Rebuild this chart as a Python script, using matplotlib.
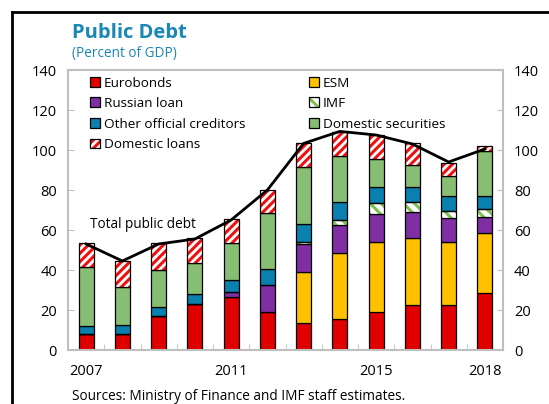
import matplotlib
matplotlib.use("Agg")
import matplotlib.pyplot as plt
import numpy as np
from matplotlib.patches import Patch
from matplotlib.legend_handler import HandlerTuple

plt.rcParams['font.family'] = ['Open Sans', 'DejaVu Sans']
plt.rcParams['hatch.linewidth'] = 2.2

years = [2007, 2008, 2009, 2010, 2011, 2012, 2013, 2014, 2015, 2016, 2017, 2018]
year_labels = ['2007', '', '', '', '2011', '', '', '', '2015', '', '', '2018']

eurobonds = [8.0, 8.0, 17.0, 22.8, 26.3, 19.2, 13.3, 15.5, 18.8, 22.3, 22.5, 28.3]
esm = [0, 0, 0, 0, 0, 0, 25.7, 32.8, 35.4, 33.5, 31.3, 30.0]
russian = [0, 0, 0, 0, 2.5, 13.1, 13.8, 14.2, 13.8, 13.0, 12.4, 8.4]
imf = [0, 0, 0, 0, 0, 0, 1.4, 2.5, 5.3, 5.4, 3.5, 3.6]
other_official = [4.0, 4.5, 4.3, 5.2, 6.2, 8.4, 8.8, 8.8, 8.0, 7.1, 7.3, 6.7]
domestic_securities = [29.3, 18.8, 18.7, 15.7, 18.7, 27.6, 28.7, 23.2, 14.0, 11.0, 10.0, 22.7]
domestic_loans = [12.0, 13.2, 13.3, 12.1, 11.6, 11.7, 11.6, 11.8, 12.2, 11.0, 6.7, 2.5]
total_debt = [53.0, 44.5, 53.0, 55.5, 65.0, 80.0, 103.3, 109.3, 107.5, 103.0, 94.0, 100.5]

series = [
    ('Eurobonds', eurobonds, '#E00000', None, None),
    ('ESM', esm, '#FFC000', None, None),
    ('Russian loan', russian, '#7F2FA3', None, None),
    ('IMF', imf, 'white', '\\\\\\', '#7CC24E'),
    ('Other official creditors', other_official, '#0A80AE', None, None),
    ('Domestic securities', domestic_securities, '#88BD74', None, None),
    ('Domestic loans', domestic_loans, 'white', '////', '#F01010'),
]

fig = plt.figure(figsize=(5.49, 4.04), dpi=100)
ax = fig.add_axes([68/549, 1-350/404, 435/549, 280/404])

x = np.arange(len(years))
width = 0.42
bottom = np.zeros(len(years))
handles = {}
for name, vals, color, hatch, hcolor in series:
    vals = np.array(vals, dtype=float)
    if hatch:
        ax.bar(x, vals, width, bottom=bottom, color=color, hatch=hatch,
               edgecolor=hcolor, linewidth=0, zorder=2)
        ax.bar(x, vals, width, bottom=bottom, fill=False,
               edgecolor='black', linewidth=0.9, zorder=3)
        h = (Patch(facecolor=color, hatch=hatch, edgecolor=hcolor, linewidth=0),
             Patch(fill=False, edgecolor='black', linewidth=0.9))
    else:
        ax.bar(x, vals, width, bottom=bottom, color=color,
               edgecolor='black', linewidth=0.9, zorder=2)
        h = Patch(facecolor=color, edgecolor='black', linewidth=0.9)
    handles[name] = h
    bottom += vals

ax.plot(x, total_debt, color='black', linewidth=2.0, zorder=4)
ax.text(0.1, 62.5, 'Total public debt', fontsize=9.8, ha='left', va='center')

ax.set_xlim(-0.5, 11.5)
ax.set_ylim(0, 140)
ax.set_yticks(range(0, 141, 20))
ax.tick_params(axis='y', which='both', direction='in', length=4, color='#BFBFBF',
               labelsize=10.5, left=True, right=True, labelleft=True, labelright=True, pad=8)
ax.set_xticks(x)
ax.set_xticklabels(year_labels)
ax.set_xticks(np.arange(0.5, 11, 1), minor=True)
ax.tick_params(axis='x', which='major', length=0, labelsize=10.5, pad=10)
ax.tick_params(axis='x', which='minor', direction='in', length=4, color='#BFBFBF')
for s in ax.spines.values():
    s.set_color('#BFBFBF')
    s.set_linewidth(1.5)

order = ['Eurobonds', 'Russian loan', 'Other official creditors', 'Domestic loans',
         'ESM', 'IMF', 'Domestic securities']
leg = ax.legend([handles[n] for n in order], order, ncol=2, loc='upper left',
                bbox_to_anchor=(0.022, 1.02), frameon=False, fontsize=9.7,
                handlelength=0.75, handleheight=0.75, handletextpad=0.3,
                columnspacing=4.7, labelspacing=0.56,
                handler_map={tuple: HandlerTuple(ndivide=1, pad=0)})

fig.text(72/549, 1-33/404, 'Public Debt', fontsize=14.5, fontweight='bold',
         color='#1A87B5', ha='left', va='center')
fig.text(72/549, 1-53/404, '(Percent of GDP)', fontsize=9.8, color='#1A87B5',
         ha='left', va='center')
fig.text(72/549, 1-397/404, 'Sources: Ministry of Finance and IMF staff estimates.',
         fontsize=9.8, ha='left', va='center')

fig.add_artist(plt.Line2D([12/549, 12/549], [0, 1-12/404], color='black',
                          linewidth=2, transform=fig.transFigure))
fig.add_artist(plt.Line2D([12/549, 1], [1-12/404, 1-12/404], color='black',
                          linewidth=2, transform=fig.transFigure))

fig.savefig('out.png', dpi=100)
